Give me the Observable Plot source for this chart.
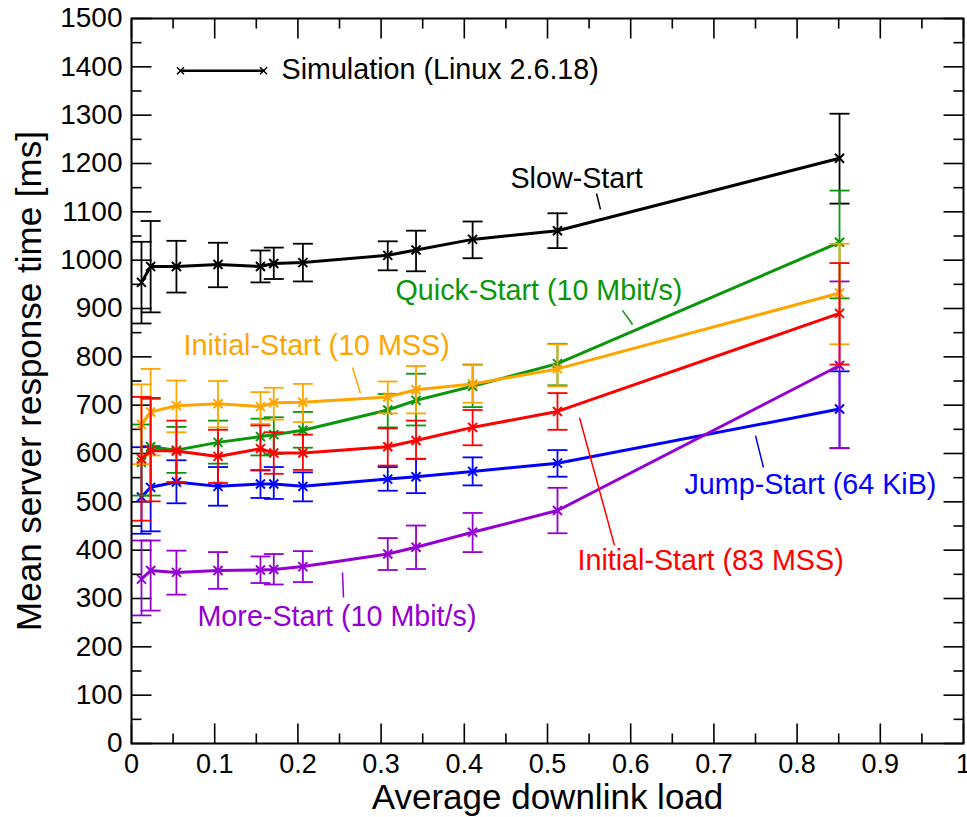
<!DOCTYPE html>
<html><head><meta charset="utf-8">
<script src="https://cdn.jsdelivr.net/npm/d3@7"></script>
<script src="https://cdn.jsdelivr.net/npm/@observablehq/plot@0.6"></script>
<style>
body{margin:0;background:#fff}
#chart svg{font-family:"Liberation Sans",Arial,sans-serif;background:#fff}
</style>
</head><body><div id="chart"></div>
<script>
// ---- data ----
const loads = [0.012, 0.023, 0.054, 0.104, 0.155, 0.171, 0.206, 0.308, 0.342, 0.410, 0.512, 0.851];

const slowMean = [954, 987, 987, 991, 987, 993, 995, 1010, 1021, 1043, 1061, 1211];
const slowLo   = [869, 892, 933, 944, 954, 961, 956, 979, 977, 1004, 1025, 1117];
const slowHi   = [1038, 1081, 1040, 1036, 1020, 1026, 1034, 1039, 1061, 1080, 1097, 1303];

const quickMean = [582, 614, 607, 623, 635, 639, 648, 690, 710, 739, 786, 1037];
const quickLo   = [513, 513, 560, 579, 596, 599, 612, 654, 658, 696, 741, 921];
const quickHi   = [660, 713, 655, 668, 672, 675, 686, 723, 765, 784, 827, 1144];

const init10Mean = [660, 686, 699, 703, 697, 705, 706, 717, 732, 744, 775, 932];
const init10Lo   = [578, 596, 644, 654, 661, 670, 665, 683, 683, 705, 739, 826];
const init10Hi   = [743, 775, 751, 750, 727, 736, 744, 749, 781, 783, 826, 1034];

const init83Mean = [589, 606, 605, 594, 610, 601, 601, 614, 627, 654, 687, 890];
const init83Lo   = [461, 501, 541, 539, 566, 558, 566, 575, 589, 617, 649, 784];
const init83Hi   = [717, 715, 668, 649, 658, 644, 639, 652, 668, 690, 725, 994];

const jumpMean = [510, 530, 541, 532, 537, 537, 532, 547, 552, 563, 580, 692];
const jumpLo   = [434, 439, 497, 492, 508, 506, 501, 523, 518, 534, 552, 611];
const jumpHi   = [613, 615, 586, 572, 565, 572, 561, 572, 589, 592, 607, 770];

const moreMean = [340, 358, 354, 358, 359, 360, 366, 392, 406, 437, 482, 782];
const moreLo   = [265, 275, 308, 320, 332, 329, 334, 359, 361, 396, 435, 611];
const moreHi   = [420, 420, 399, 396, 387, 392, 398, 425, 451, 477, 529, 956];

// drawing order (bottom to top)
const seriesNames  = ["Slow-Start", "Jump-Start (64 KiB)", "More-Start (10 Mbit/s)", "Quick-Start (10 Mbit/s)", "Initial-Start (10 MSS)", "Initial-Start (83 MSS)"];
const seriesColors = ["#000000", "#0000ff", "#9400d3", "#0a960a", "#ffa500", "#ff0000"];
const seriesMeans  = [slowMean, jumpMean, moreMean, quickMean, init10Mean, init83Mean];
const seriesLos    = [slowLo, jumpLo, moreLo, quickLo, init10Lo, init83Lo];
const seriesHis    = [slowHi, jumpHi, moreHi, quickHi, init10Hi, init83Hi];

// annotation labels (data coordinates)
const annText  = ["Slow-Start", "Quick-Start (10 Mbit/s)", "Initial-Start (10 MSS)", "More-Start (10 Mbit/s)", "Jump-Start (64 KiB)", "Initial-Start (83 MSS)", "Simulation (Linux 2.6.18)"];
const annColor = ["#000000", "#0a960a", "#ffa500", "#9400d3", "#0000ff", "#ff0000", "#000000"];
const annX     = [0.4555, 0.3173, 0.0625, 0.0793, 0.6647, 0.536, 0.1803];
const annY     = [1168, 937, 823, 263, 536, 377, 1394];

// leader lines
const leadColor = ["#000000", "#0a960a", "#ffa500", "#9400d3", "#0000ff", "#ff0000"];
const leadX1 = [0.5589, 0.5901, 0.2656, 0.2536, 0.7500, 0.5385];
const leadY1 = [1138, 896, 778, 354, 637, 674];
const leadX2 = [0.5637, 0.6022, 0.2752, 0.2548, 0.7596, 0.5805];
const leadY2 = [1105, 867, 724, 302, 571, 410];

// legend sample line
const legendX = [0.0589, 0.1587];
const legendY = [1392, 1392];

// ticks
const xTicks = [0, 0.1, 0.2, 0.3, 0.4, 0.5, 0.6, 0.7, 0.8, 0.9, 1];
const xMinor = [0.05, 0.15, 0.25, 0.35, 0.45, 0.55, 0.65, 0.75, 0.85, 0.95];
const yTicks = [0, 100, 200, 300, 400, 500, 600, 700, 800, 900, 1000, 1100, 1200, 1300, 1400, 1500];
const yMinor = [50, 150, 250, 350, 450, 550, 650, 750, 850, 950, 1050, 1150, 1250, 1350, 1450];

// ---- symbols ----
const sym = (pts) => ({draw(ctx){ for (const [a,b,c,d] of pts){ ctx.moveTo(a,b); ctx.lineTo(c,d);} }});
const capSym = sym([[-10,0,10,0]]);
const timesSym = sym([[-4.5,-4.5,4.5,4.5],[-4.5,4.5,4.5,-4.5]]);
const smallTimes = sym([[-3.5,-3.5,3.5,3.5],[-3.5,3.5,3.5,-3.5]]);
const tickL = (n) => sym([[0,0,n,0]]);
const tickR = (n) => sym([[0,0,-n,0]]);
const tickB = (n) => sym([[0,0,0,-n]]);
const tickT = (n) => sym([[0,0,0,n]]);

const marks = [];
// ticks
marks.push(Plot.dot(yTicks, {x: 0, y: d => d, symbol: tickL(20), stroke: "#000", strokeWidth: 1.6, fill: "none"}));
marks.push(Plot.dot(yMinor, {x: 0, y: d => d, symbol: tickL(10), stroke: "#000", strokeWidth: 1.6, fill: "none"}));
marks.push(Plot.dot(yTicks, {x: 1, y: d => d, symbol: tickR(20), stroke: "#000", strokeWidth: 1.6, fill: "none"}));
marks.push(Plot.dot(yMinor, {x: 1, y: d => d, symbol: tickR(10), stroke: "#000", strokeWidth: 1.6, fill: "none"}));
marks.push(Plot.dot(xTicks, {x: d => d, y: 0, symbol: tickB(20), stroke: "#000", strokeWidth: 1.6, fill: "none"}));
marks.push(Plot.dot(xMinor, {x: d => d, y: 0, symbol: tickB(10), stroke: "#000", strokeWidth: 1.6, fill: "none"}));
marks.push(Plot.dot(xTicks, {x: d => d, y: 1500, symbol: tickT(20), stroke: "#000", strokeWidth: 1.6, fill: "none"}));
marks.push(Plot.dot(xMinor, {x: d => d, y: 1500, symbol: tickT(10), stroke: "#000", strokeWidth: 1.6, fill: "none"}));

marks.push(Plot.axisY({ticks: yTicks, tickSize: 0, tickPadding: 9, fontSize: 28, tickFormat: d => String(d), label: null}));
marks.push(Plot.axisX({ticks: xTicks, tickSize: 0, tickPadding: 10, fontSize: 27, tickFormat: d => String(d), label: null}));

// series
seriesNames.forEach((name, i) => {
  const rows = loads.map((x, j) => ({x, mean: seriesMeans[i][j], lo: seriesLos[i][j], hi: seriesHis[i][j]}));
  const c = seriesColors[i];
  marks.push(Plot.ruleX(rows, {x: "x", y1: "lo", y2: "hi", stroke: c, strokeWidth: 1.8}));
  marks.push(Plot.dot(rows, {x: "x", y: "lo", symbol: capSym, stroke: c, strokeWidth: 1.8, fill: "none"}));
  marks.push(Plot.dot(rows, {x: "x", y: "hi", symbol: capSym, stroke: c, strokeWidth: 1.8, fill: "none"}));
  marks.push(Plot.line(rows, {x: "x", y: "mean", stroke: c, strokeWidth: 3}));
  marks.push(Plot.dot(rows, {x: "x", y: "mean", symbol: timesSym, stroke: c, strokeWidth: 2, fill: "none"}));
});

// leaders
const leads = leadX1.map((x1, i) => ({x1, y1: leadY1[i], x2: leadX2[i], y2: leadY2[i], c: leadColor[i]}));
marks.push(Plot.link(leads, {x1: "x1", y1: "y1", x2: "x2", y2: "y2", stroke: "c", strokeWidth: 1.5}));

// legend
const leg = legendX.map((x, i) => ({x, y: legendY[i]}));
marks.push(Plot.line(leg, {x: "x", y: "y", stroke: "#000", strokeWidth: 2.5}));
marks.push(Plot.dot(leg, {x: "x", y: "y", symbol: smallTimes, stroke: "#000", strokeWidth: 1.5, fill: "none"}));

// annotations
const anns = annText.map((t, i) => ({t, x: annX[i], y: annY[i], c: annColor[i]}));
marks.push(Plot.text(anns, {x: "x", y: "y", text: "t", fill: "c", textAnchor: "start", lineAnchor: "middle", fontSize: 28.7}));

// axis titles
marks.push(Plot.text(["Average downlink load"], {frameAnchor: "bottom", textAnchor: "middle", lineAnchor: "middle", dy: 54, fontSize: 35, fill: "#000"}));
marks.push(Plot.text(["Mean server response time [ms]"], {frameAnchor: "left", textAnchor: "middle", lineAnchor: "middle", dx: -102, rotate: -90, fontSize: 35, fill: "#000"}));

marks.push(Plot.frame({stroke: "#000", strokeWidth: 2}));

const chart = Plot.plot({
  width: 967,
  height: 817,
  marginLeft: 131,
  marginRight: 4,
  marginTop: 18,
  marginBottom: 74,
  x: {domain: [0, 1]},
  y: {domain: [0, 1500]},
  color: {type: "identity"},
  style: {fontFamily: "Liberation Sans, Arial, sans-serif", fontSize: "27px", color: "#000", background: "#fff"},
  marks
});
document.getElementById("chart").appendChild(chart);
</script>
</body></html>
